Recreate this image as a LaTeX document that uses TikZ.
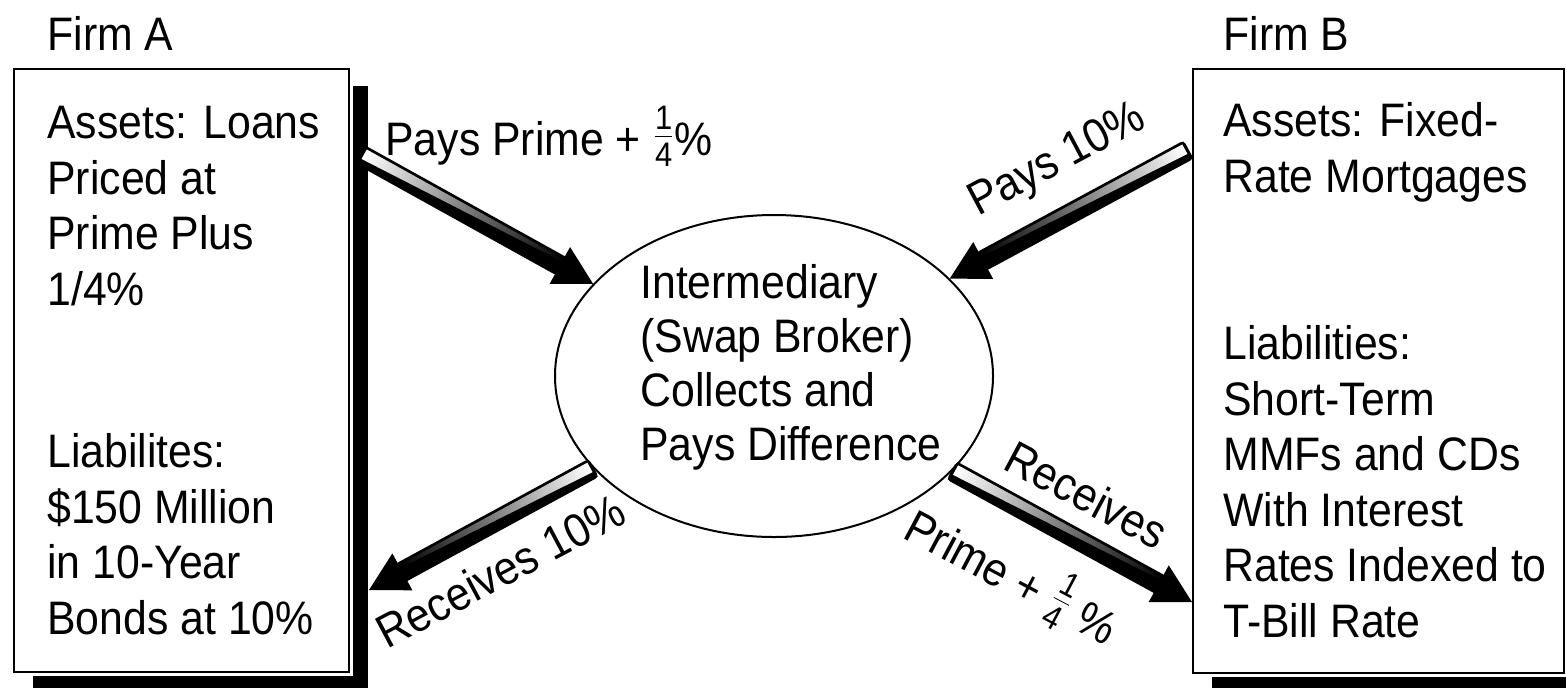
\documentclass[tikz,border=0pt]{standalone}
\usepackage{fontspec}
\setmainfont{Liberation Sans}[FakeStretch=0.91]
\usetikzlibrary{calc,shapes.geometric,shadows}

\tikzset{
  firmbox/.style={draw, line width=1pt, fill=white, anchor=north west, inner sep=0pt,
    drop shadow={shadow xshift=9.5pt, shadow yshift=-8.5pt, fill=black, opacity=1},
    preaction={draw=white, line width=3.5pt}},
  boxtext/.style={anchor=base west, align=left, inner sep=0pt},
  swaplabel/.style={anchor=base west, inner sep=0pt},
}

\newcommand\quarter{\raisebox{3pt}{$\frac{\hbox{\fontsize{17}{17}\selectfont 1}}{\hbox{\fontsize{17}{17}\selectfont 4}}$}}

% thick shaded arrow, #3 = side of the white strip
\newcommand\swaparrow[3]{%
  \path #1 coordinate (tail) #2 coordinate (tip);
  \path let \p1=($(tip)-(tail)$) in \pgfextra{%
    \pgfmathsetmacro\arang{atan2(\y1,\x1)}\global\let\arang\arang
    \pgfmathsetmacro\arlen{veclen(\x1,\y1)-19}\global\let\arlen\arlen};
  \begin{scope}[transform canvas={shift={(tail)}, rotate=\arang, yscale=#3}]
    \fill (0pt,-4.8pt) rectangle (\arlen pt+1pt,4.8pt);
    \shade[left color=white, middle color=white, right color=black]
      (1.2pt,3.8pt) -- (\arlen pt,3.8pt) -- (\arlen pt,2.2pt) -- (1.2pt,-1.6pt) -- cycle;
    \draw[line width=0.8pt, rounded corners=1.5pt] (\arlen pt,4.8pt) -- (0pt,4.8pt) -- (0pt,-4.8pt) -- (\arlen pt,-4.8pt);
    \fill (\arlen pt,-10.5pt) -- (\arlen pt+19pt,0pt) -- (\arlen pt,10.5pt) -- cycle;
  \end{scope}}

\begin{document}
\begin{tikzpicture}[x=0.5pt, y=-0.5pt, font=\fontsize{23.5}{27.75}\selectfont]
  \useasboundingbox (0,0) rectangle (1566,687);

  % Firm A
  \node[firmbox, minimum width=167.5pt, minimum height=301.5pt] (firmA) at (13,68) {};
  \node[boxtext] (nameA) at (47,50) {Firm A};
  \node[boxtext] (assetsA) at (47,305) {Assets: Loans\\Priced at\\Prime Plus\\1/4\%};
  \node[boxtext] (liabA) at (47,634) {Liabilites:\\\$150 Million\\in 10-Year\\Bonds at 10\%};

  % Firm B
  \node[firmbox, minimum width=185.5pt, minimum height=302pt] (firmB) at (1192,68) {};
  \node[boxtext] (nameB) at (1223,50) {Firm B};
  \node[boxtext] (assetsB) at (1223,192) {Assets: Fixed-\\Rate Mortgages};
  \node[boxtext] (liabB) at (1223,637) {Liabilities:\\Short-Term\\MMFs and CDs\\With Interest\\Rates Indexed to\\T-Bill Rate};

  % Broker
  \node[draw, line width=1pt, ellipse, inner sep=0pt, minimum width=219pt, minimum height=161pt] (broker) at (774,376) {};
  \node[boxtext, font=\fontsize{23.5}{27}\selectfont] (brokertext) at (640,460) {Intermediary\\(Swap Broker)\\Collects and\\Pays Difference};

  % Zahlungen
  \swaparrow{($(firmA.east |- 0,155)+(11,0)$)}{(broker.153)}{1}
  \swaparrow{($(firmB.west |- 0,150)+(-4,0)$)}{(broker.29)}{-1}
  \swaparrow{(broker.207)}{($(firmA.east |- 0,590)+(19,0)$)}{-1}
  \swaparrow{(broker.-28)}{(firmB.west |- 0,602)}{1}

  \node[swaplabel] (paysA) at (385,155) {Pays Prime + \quarter\%};
  \node[swaplabel, rotate=28] (paysB) at (978,217) {Pays 10\%};
  \node[swaplabel, rotate=28] (recvA) at (387,650) {Receives 10\%};
  \node[swaplabel, rotate=-28] (recvB) at (1001,468) {Receives};
  \node[swaplabel, rotate=-28] (primeB) at (901,537) {Prime + \quarter\ \%};
\end{tikzpicture}
\end{document}
